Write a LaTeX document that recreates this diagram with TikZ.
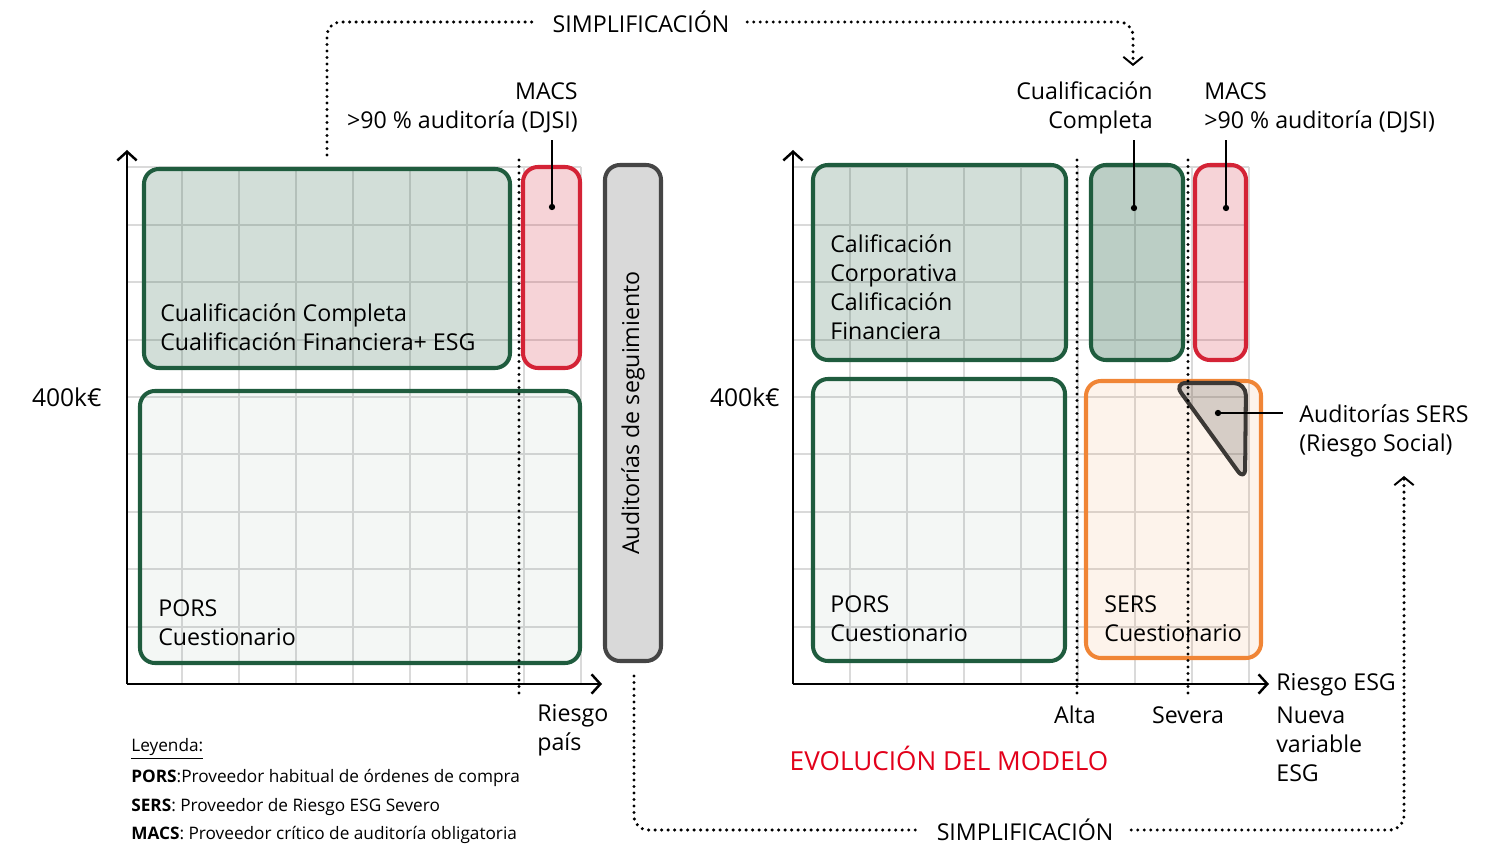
\documentclass[tikz,border=0pt]{standalone}
\usepackage{fontspec}
\setmainfont{Open Sans}
\usetikzlibrary{arrows.meta, positioning, fit, calc}
\definecolor{zonegreen}{HTML}{1F5C3E}
\definecolor{zonered}{HTML}{D42336}
\definecolor{zoneorange}{HTML}{F08536}
\definecolor{zonegray}{HTML}{454545}
\definecolor{zonefill}{HTML}{D9D9D9}
\definecolor{gridgray}{HTML}{DADADA}
\definecolor{sersdark}{HTML}{3B3835}
\definecolor{titlered}{HTML}{E2001A}
\tikzset{
  zone/.style={line width=2.3pt, rounded corners=8.5pt, inner sep=0pt},
  gzone/.style={zone, draw=zonegreen, fill=zonegreen, fill opacity=0.2},
  gzonelight/.style={zone, draw=zonegreen, fill=zonegreen, fill opacity=0.05},
  gzonedark/.style={zone, draw=zonegreen, fill=zonegreen, fill opacity=0.3},
  rzone/.style={zone, draw=zonered, fill=zonered, fill opacity=0.2},
  ozone/.style={zone, draw=zoneorange, fill=zoneorange, fill opacity=0.1},
  azone/.style={zone, draw=zonegray, fill=zonefill},
  tri/.style={line width=2.3pt, rounded corners=7pt, draw=sersdark,
              fill=sersdark, fill opacity=0.2, line join=round},
  gridln/.style={draw=gridgray, line width=1.1pt},
  axis/.style={line width=1.4pt, -{Straight Barb[length=5pt, width=11pt]}},
  dots/.style={line width=1.9pt, line cap=round, dash pattern=on 0pt off 3.7pt},
  darrow/.style={dots, rounded corners=8pt,
                 -{Straight Barb[length=4.5pt, width=11pt, line width=1.1pt]}},
  pointer/.style={line width=0.8pt},
  txt/.style={font=\fontsize{13.2}{16.6}\selectfont, align=left, inner sep=0pt},
  legend/.style={font=\fontsize{9.8}{12}\selectfont, anchor=west, inner sep=0pt},
}
\newcommand{\pindot}[1]{\fill (#1) circle (1.8pt);}

\begin{document}
\begin{tikzpicture}[x=0.02cm, y=-0.02cm]
  \useasboundingbox (0,0) rectangle (1487,847);

  % grids
  \foreach \i in {1,...,8}{
    \draw[gridln] (125+57*\i,167) -- (125+57*\i,684);
    \draw[gridln] (793+57*\i,167) -- (793+57*\i,684);
  }
  \foreach \j in {1,...,9}{
    \draw[gridln] (127,684-57.4*\j) -- (581,684-57.4*\j);
    \draw[gridln] (793,684-57.4*\j) -- (1249,684-57.4*\j);
  }

  % left panel
  \node[gzone, fit={(144,169) (510,368)}] (ccbox) {};
  \node[gzonelight, fit={(140,391) (580,663)}] (porsl) {};
  \node[rzone, fit={(523,167) (580,368)}] (macsbox) {};
  \node[azone, fit={(605,165) (661,661)}] (audbox) {};
  \node[txt, anchor=west] (cctxt) at (160,327) {Cualificación Completa\\Cualificación Financiera+ ESG};
  \node[txt, anchor=west] (porsltxt) at (158,623) {PORS\\Cuestionario};
  \node[txt, rotate=90] (audtxt) at (audbox.center) {Auditorías de seguimiento};

  \coordinate (lorig) at (127,684);
  \coordinate (lytop) at (127,150);
  \coordinate (lxend) at (602,684);
  \draw[axis] (lorig) -- (lytop);
  \draw[axis] (lorig) -- (lxend);
  \coordinate (ldtop) at (519,160);
  \coordinate (ldbot) at (519,694);
  \draw[dots] (ldtop) -- (ldbot);

  \node[txt, anchor=east, font=\fontsize{14}{17}\selectfont] (lk) at (102,397) {400k€};
  \node[txt, anchor=west] (rpais) at (537,730) {Riesgo\\país};
  \node[txt, align=right, anchor=east] (macsl) at (578,108) {MACS\\>90 \% auditoría (DJSI)};
  \coordinate (macsdot) at (552,207);
  \pindot{macsdot}
  \draw[pointer] (macsdot) -- (macsdot |- 0,140);

  % right panel
  \node[gzone, fit={(813,165) (1066,360)}] (califbox) {};
  \node[gzonelight, fit={(813,379) (1065,661)}] (porsr) {};
  \node[gzonedark, fit={(1091,165) (1183,360)}] (ccrbox) {};
  \node[rzone, fit={(1195,165) (1246,360)}] (macsrbox) {};
  \node[ozone, fit={(1086,381) (1261,658)}] (sersbox) {};
  \draw[tri] (1174,383) -- (1246,383) -- (1245,481) -- cycle;

  \node[txt, anchor=west] (califtxt) at (830,287) {Calificación\\Corporativa\\Calificación\\Financiera};
  \node[txt, anchor=west] (porsrtxt) at (830,619) {PORS\\Cuestionario};
  \node[txt, anchor=west] (serstxt) at (1104,619) {SERS\\Cuestionario};

  \coordinate (rorig) at (793,684);
  \coordinate (rytop) at (793,150);
  \coordinate (rxend) at (1269,684);
  \draw[axis] (rorig) -- (rytop);
  \draw[axis] (rorig) -- (rxend);
  \coordinate (atop) at (1077,160);
  \coordinate (abot) at (1077,694);
  \coordinate (stop) at (1188,160);
  \coordinate (sbot) at (1188,694);
  \draw[dots] (atop) -- (abot);
  \draw[dots] (stop) -- (sbot);

  \node[txt] (alta) at (1075,715) {Alta};
  \node[txt] (severa) at (1188,715) {Severa};
  \node[txt, anchor=east, font=\fontsize{14}{17}\selectfont] (rk) at (780,397) {400k€};
  \node[txt, anchor=west] (resg) at (1276,685) {Riesgo ESG};
  \node[txt, anchor=west] (nueva) at (1276,744) {Nueva\\variable\\ESG};
  \node[txt, align=right, anchor=east] (ccl) at (1153,108) {Cualificación\\Completa};
  \node[txt, anchor=west] (macsr) at (1204,108) {MACS\\>90 \% auditoría (DJSI)};
  \node[txt, anchor=west] (audsers) at (1299,431) {Auditorías SERS\\(Riesgo Social)};
  \node[txt, font=\fontsize{14.9}{17}\selectfont, text=titlered] (evo) at (949,758) {EVOLUCIÓN DEL MODELO};

  \coordinate (ccdot) at (1134,208);
  \coordinate (macsrdot) at (1226,208);
  \coordinate (sersdot) at (1218,413);
  \coordinate (sersend) at (1283,413);
  \pindot{ccdot}
  \pindot{macsrdot}
  \pindot{sersdot}
  \draw[pointer] (ccdot) -- (ccdot |- 0,140);
  \draw[pointer] (macsrdot) -- (macsrdot |- 0,140);
  \draw[pointer] (sersdot) -- (sersend);

  % simplification arrows
  \node[txt, inner xsep=10pt] (simtop) at (641,22) {SIMPLIFICACIÓN};
  \node[txt, inner xsep=10pt] (simbot) at (1025,830) {SIMPLIFICACIÓN};
  \coordinate (tstart) at (327,155);
  \coordinate (tend) at (1133,66);
  \coordinate (bstart) at (634,676);
  \coordinate (bend) at (1404,476);
  \draw[dots, rounded corners=8pt] (tstart) |- (simtop.west);
  \draw[darrow] (simtop.east) -| (tend);
  \draw[dots, rounded corners=8pt] (bstart) |- (simbot.west);
  \draw[darrow] (simbot.east) -| (bend);

  % legend
  \node[legend] (ley) at (131,749) {\underline{Leyenda:}};
  \node[legend] (lpors) at (131,778) {\textbf{PORS}:Proveedor habitual de órdenes de compra};
  \node[legend] (lsers) at (131,807) {\textbf{SERS}: Proveedor de Riesgo ESG Severo};
  \node[legend] (lmacs) at (131,835) {\textbf{MACS}: Proveedor crítico de auditoría obligatoria};
\end{tikzpicture}
\end{document}
